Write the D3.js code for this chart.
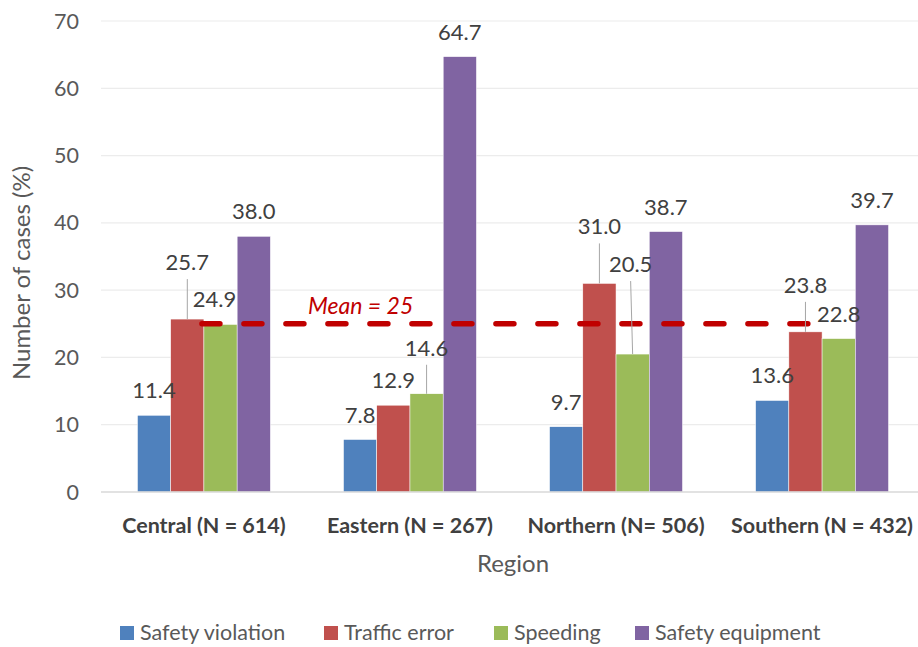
<!DOCTYPE html>
<html>
  <head>
    <title>Cases by region</title>
    <script src="https://d3js.org/d3.v7.min.js"></script>
    <style>
      body { margin: 0; background: #fff; }
      text { font-family: Lato, "Open Sans", sans-serif; }
    </style>
  </head>
  <body>
    <svg width="918" height="647"></svg>
    <script>
      const regions = ["Central (N = 614)", "Eastern (N = 267)", "Northern (N= 506)", "Southern (N = 432)"];
      const series = ["Safety violation", "Traffic error", "Speeding", "Safety equipment"];
      const colors = ["#4F81BD", "#C0504D", "#9BBB59", "#8064A2"];
      const safetyViolation = [11.4, 7.8, 9.7, 13.6];
      const trafficError = [25.7, 12.9, 31.0, 23.8];
      const speeding = [24.9, 14.6, 20.5, 22.8];
      const safetyEquipment = [38.0, 64.7, 38.7, 39.7];
      const yTicks = [0, 10, 20, 30, 40, 50, 60, 70];
      const meanValue = 25;

      // label nudges in px [dx, dy], per region then series; dy<0 draws a leader line
      const labelNudge = [
        [[0, 0], [0, -32], [-6, 0], [0, 0]],
        [[0, 0], [0, 0], [0, -21], [0, 0]],
        [[0, 0], [0, -32], [-2, -65], [0, 0]],
        [[0, 0], [0, -22], [0, 0], [0, 0]]
      ];

      const values = [safetyViolation, trafficError, speeding, safetyEquipment];
      const margin = {top: 21, right: 0, bottom: 155, left: 101};
      const svg = d3.select("svg");
      const width = +svg.attr("width");
      const height = +svg.attr("height");
      const plotBottom = height - margin.bottom;

      const x0 = d3.scaleBand().domain(regions).range([margin.left, margin.left + 824]).paddingInner(0.355).paddingOuter(0.177);
      const x1 = d3.scaleBand().domain(series).range([0, x0.bandwidth()]);
      const y = d3.scaleLinear().domain([0, 70]).range([plotBottom, margin.top]);

      // gridlines
      svg.append("g").selectAll("line").data(yTicks.slice(1)).join("line")
        .attr("x1", margin.left).attr("x2", width)
        .attr("y1", d => y(d)).attr("y2", d => y(d))
        .attr("stroke", "#ececec").attr("stroke-width", 1.2);

      // y tick labels
      svg.append("g").selectAll("text").data(yTicks).join("text")
        .attr("x", 79).attr("y", d => y(d) + 7.5)
        .attr("text-anchor", "end").attr("font-size", 21.5).attr("fill", "#595959")
        .text(d => d);

      // bars
      const cells = [];
      regions.forEach((r, i) => series.forEach((s, j) => cells.push({r, s, i, j, v: values[j][i]})));

      svg.append("g").selectAll("rect").data(cells).join("rect")
        .attr("x", d => x0(d.r) + x1(d.s))
        .attr("y", d => y(d.v))
        .attr("width", x1.bandwidth())
        .attr("height", d => plotBottom - y(d.v))
        .attr("fill", d => colors[d.j])
        .attr("stroke", "#fff").attr("stroke-width", 0.5);

      // x axis line
      svg.append("line")
        .attr("x1", margin.left).attr("x2", width)
        .attr("y1", plotBottom).attr("y2", plotBottom)
        .attr("stroke", "#d9d9d9").attr("stroke-width", 1.5);

      // mean line
      const meanStart = x0(regions[0]) + x1(series[2]) - 2;
      const meanEnd = x0(regions[3]) + x1(series[1]) + 19;
      svg.append("line")
        .attr("x1", meanStart).attr("x2", meanEnd)
        .attr("y1", y(meanValue)).attr("y2", y(meanValue))
        .attr("stroke", "#C00000").attr("stroke-width", 5.5)
        .attr("stroke-linecap", "round")
        .attr("stroke-dasharray", "18 24");
      svg.append("text")
        .attr("x", 308).attr("y", y(meanValue) - 10)
        .attr("font-size", 23).attr("font-style", "italic").attr("fill", "#C00000")
        .text("Mean = " + meanValue);

      // leader lines and value labels
      const labelX = d => x0(d.r) + x1(d.s) + x1.bandwidth() / 2 + labelNudge[d.i][d.j][0];
      const labelCy = d => y(d.v) - 25 + labelNudge[d.i][d.j][1];

      svg.append("g").selectAll("line").data(cells.filter(d => labelNudge[d.i][d.j][1] < -10)).join("line")
        .attr("x1", d => labelX(d)).attr("x2", d => x0(d.r) + x1(d.s) + x1.bandwidth() / 2)
        .attr("y1", d => labelCy(d) + 17).attr("y2", d => y(d.v))
        .attr("stroke", "#a6a6a6").attr("stroke-width", 1);

      svg.append("g").selectAll("text").data(cells).join("text")
        .attr("x", labelX)
        .attr("y", d => labelCy(d) + 8)
        .attr("text-anchor", "middle").attr("font-size", 22).attr("fill", "#404040")
        .text(d => d.v.toFixed(1));

      // category labels
      svg.append("g").selectAll("text").data(regions).join("text")
        .attr("x", d => x0(d) + x0.bandwidth() / 2).attr("y", 533)
        .attr("text-anchor", "middle").attr("font-size", 21.5).attr("font-weight", "bold").attr("fill", "#404040")
        .text(d => d);

      // axis titles
      svg.append("text")
        .attr("x", 513).attr("y", 572)
        .attr("text-anchor", "middle").attr("font-size", 24).attr("fill", "#595959")
        .text("Region");
      svg.append("text")
        .attr("transform", `translate(30, 273) rotate(-90)`)
        .attr("text-anchor", "middle").attr("font-size", 24).attr("fill", "#595959")
        .text("Number of cases (%)");

      // legend
      const legendX = [120, 324, 494, 635];
      const legend = svg.append("g").selectAll("g").data(series).join("g")
        .attr("transform", (d, i) => `translate(${legendX[i]}, 626)`);
      legend.append("rect").attr("width", 14).attr("height", 14).attr("fill", (d, i) => colors[i]);
      legend.append("text").attr("x", 20).attr("y", 14)
        .attr("font-size", 21.5).attr("fill", "#595959").text(d => d);
    </script>
  </body>
</html>
